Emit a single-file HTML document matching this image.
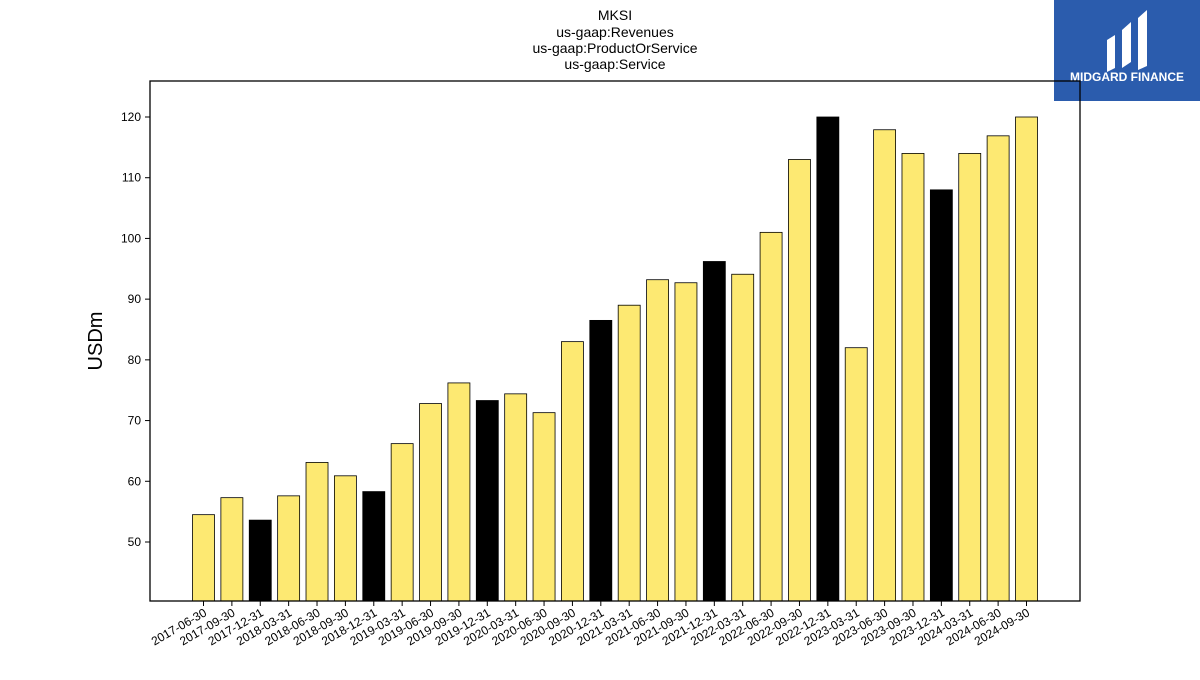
<!DOCTYPE html>
<html><head><meta charset="utf-8"><style>
body{margin:0;background:#fff;font-family:"Liberation Sans","DejaVu Sans",sans-serif}
</style></head><body>
<svg id="chart" width="1200" height="675" xmlns="http://www.w3.org/2000/svg">
<g font-size="14" text-anchor="middle" fill="#000">
<text x="615" y="20">MKSI</text><text x="615" y="37">us-gaap:Revenues</text>
<text x="615" y="53">us-gaap:ProductOrService</text><text x="615" y="69">us-gaap:Service</text></g>
<g>
<rect x="1054" y="0" width="146" height="101" fill="#2b5cad"/>
<path d="M1107 40 L1115 35 L1115 68 L1107 72 Z M1122 30 L1131 22 L1131 62 L1122 68 Z M1138 18 L1147 10 L1147 66 L1138 70 Z" fill="#fff"/>
<text x="1127" y="81" font-size="12" font-weight="bold" fill="#fff" text-anchor="middle">MIDGARD FINANCE</text></g>
<g id="bars"></g>
<rect x="150" y="81" width="930" height="520" fill="none" stroke="#000" stroke-width="1.3"/>
<g id="yaxis" font-size="12"></g>
<g id="xaxis" font-size="12"></g>
<text transform="translate(102,341) rotate(-90)" font-size="20" text-anchor="middle">USDm</text>
</svg>
<script>
const categories=["2017-06-30","2017-09-30","2017-12-31","2018-03-31","2018-06-30","2018-09-30","2018-12-31","2019-03-31","2019-06-30","2019-09-30","2019-12-31","2020-03-31","2020-06-30","2020-09-30","2020-12-31","2021-03-31","2021-06-30","2021-09-30","2021-12-31","2022-03-31","2022-06-30","2022-09-30","2022-12-31","2023-03-31","2023-06-30","2023-09-30","2023-12-31","2024-03-31","2024-06-30","2024-09-30"];
const values=[54.5,57.3,53.6,57.6,63.1,60.9,58.3,66.2,72.8,76.2,73.3,74.4,71.3,83.0,86.5,89.0,93.2,92.7,96.2,94.1,101.0,113.0,120.0,82.0,117.9,114.0,108.0,114.0,116.9,120.0];
const yTicks=[50,60,70,80,90,100,110,120];
const NS="http://www.w3.org/2000/svg";
const yMin=40.28,yMax=125.93,plotTop=81,plotBot=601;
const y=v=>plotBot-(v-yMin)/(yMax-yMin)*(plotBot-plotTop);
const x=i=>203.5+i*(1026.5-203.5)/(categories.length-1);
const bw=22;
const bars=document.getElementById('bars'),ya=document.getElementById('yaxis'),xa=document.getElementById('xaxis');
values.forEach((v,i)=>{
 const r=document.createElementNS(NS,'rect');
 
 
 r.setAttribute('x',x(i)-bw/2);r.setAttribute('y',y(v));r.setAttribute('width',bw);r.setAttribute('height',plotBot-y(v));
 r.setAttribute('fill',categories[i].endsWith('12-31')?'#000':'#fde972');r.setAttribute('stroke','#000');r.setAttribute('stroke-width','0.8');
 bars.appendChild(r);
 const t=document.createElementNS(NS,'line');
 
 
 t.setAttribute('x1',x(i));t.setAttribute('x2',x(i));t.setAttribute('y1',plotBot);t.setAttribute('y2',plotBot+5);t.setAttribute('stroke','#000');
 xa.appendChild(t);
 const l=document.createElementNS(NS,'text');
 
 
 l.setAttribute('text-anchor','end');
 l.setAttribute('transform','translate('+(x(i)+4)+','+(plotBot+14)+') rotate(-30)');
 l.textContent=categories[i];xa.appendChild(l);
});
yTicks.forEach(v=>{
 const t=document.createElementNS(NS,'line');
 
 
 t.setAttribute('x1',145);t.setAttribute('x2',150);t.setAttribute('y1',y(v));t.setAttribute('y2',y(v));t.setAttribute('stroke','#000');
 ya.appendChild(t);
 const l=document.createElementNS(NS,'text');
 
 
 l.setAttribute('x',141);l.setAttribute('y',y(v)+4);l.setAttribute('text-anchor','end');
 l.textContent=v;ya.appendChild(l);
});
</script>
</body></html>
